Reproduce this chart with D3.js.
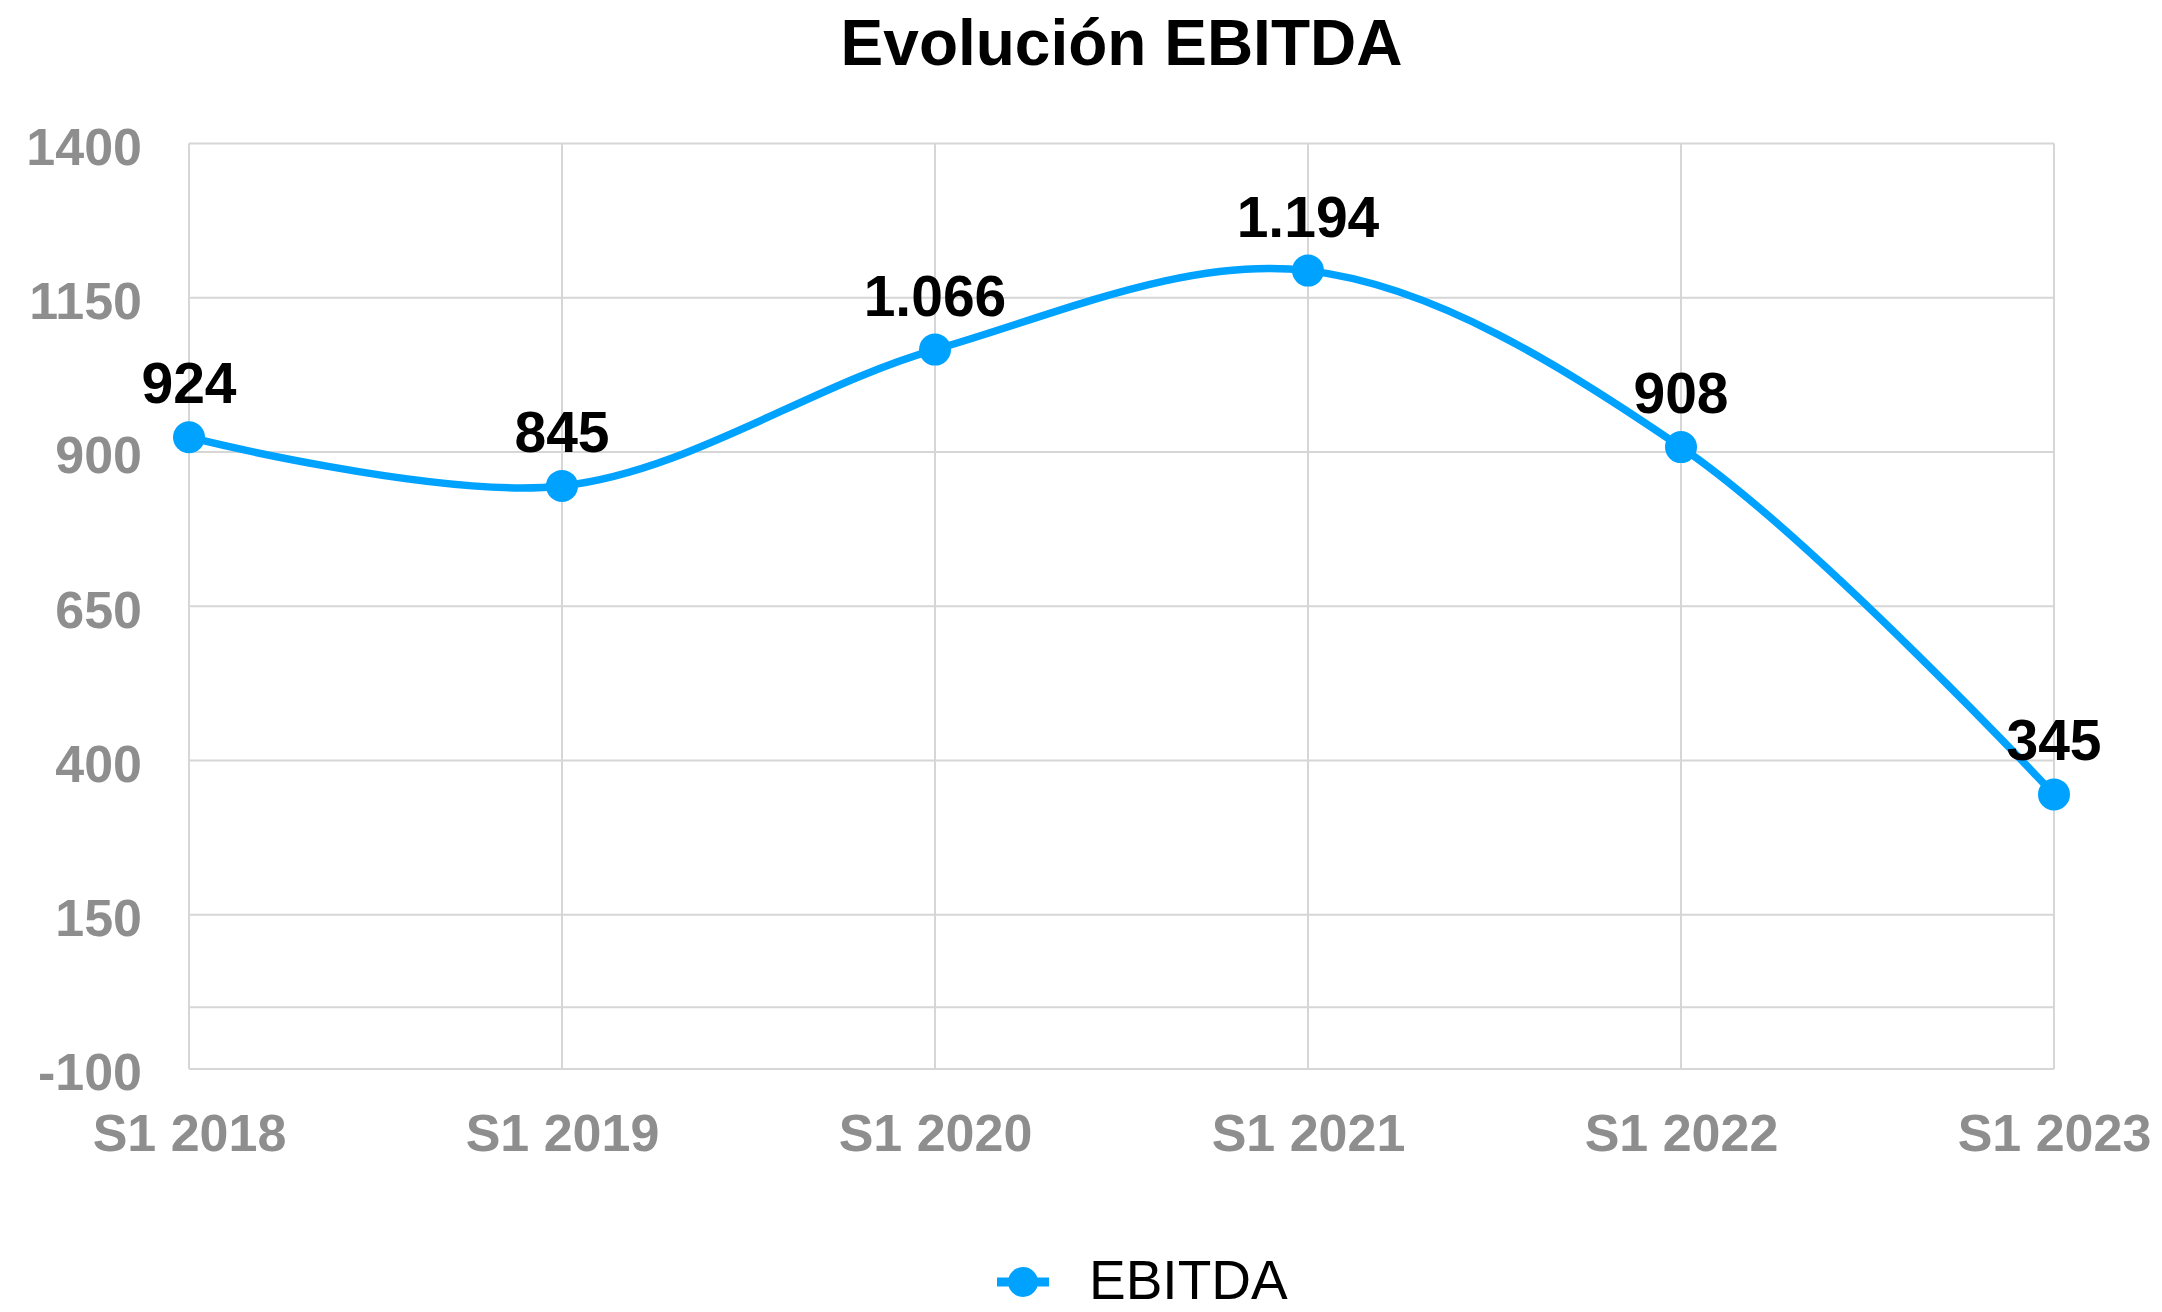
<!DOCTYPE html>
<html>
<head>
<meta charset="utf-8">
<script src="https://cdn.jsdelivr.net/npm/d3@7"></script>
<style>
  html, body { margin: 0; padding: 0; background: #ffffff; }
  svg { display: block; }
  text { font-family: "Liberation Sans", Arial, Helvetica, sans-serif; }
</style>
</head>
<body>
<svg id="chart" width="2162" height="1312"></svg>
<script>
const categories = ["S1 2018", "S1 2019", "S1 2020", "S1 2021", "S1 2022", "S1 2023"];
const ebitda = [924, 845, 1066, 1194, 908, 345];
const dataLabels = ["924", "845", "1.066", "1.194", "908", "345"];
const yTicks = [-100, 150, 400, 650, 900, 1150, 1400];
const seriesName = "EBITDA";
const chartTitle = "Evolución EBITDA";

const W = 2162, H = 1312;
const plot = { left: 189, right: 2054, top: 143.5, bottom: 1069 };
const blue = "#00a2ff";
const gridColor = "#d6d6d6";

const svg = d3.select("#chart");
svg.append("rect").attr("width", W).attr("height", H).attr("fill", "#fff");

const x = d3.scalePoint().domain(categories).range([plot.left, plot.right]).padding(0);
const y = d3.scaleLinear().domain([-100, 1400]).range([plot.bottom, plot.top]);

// horizontal gridlines (including zero line)
const hLines = yTicks.concat([0]);
svg.append("g").selectAll("line").data(hLines).join("line")
  .attr("x1", plot.left).attr("x2", plot.right)
  .attr("y1", d => y(d)).attr("y2", d => y(d))
  .attr("stroke", gridColor).attr("stroke-width", 2);

// vertical gridlines
svg.append("g").selectAll("line").data(categories).join("line")
  .attr("x1", d => x(d)).attr("x2", d => x(d))
  .attr("y1", plot.top).attr("y2", plot.bottom)
  .attr("stroke", gridColor).attr("stroke-width", 2);

// y axis labels
const yAxis = d3.axisLeft(y).tickValues(yTicks).tickSize(0).tickPadding(47).tickFormat(d => d < 0 ? "-" + Math.abs(d) : String(d));
const gy = svg.append("g").attr("transform", `translate(${plot.left},0)`).call(yAxis);
gy.select(".domain").remove();
gy.selectAll("text")
  .attr("font-family", "'Liberation Sans', Arial, sans-serif")
  .attr("font-size", 52).attr("font-weight", "bold").attr("fill", "#8e8e8e")
  .attr("dy", "0.40em");

// x axis labels
const xAxis = d3.axisBottom(x).tickSize(0).tickPadding(0);
const gx = svg.append("g").attr("transform", `translate(0,${plot.bottom})`).call(xAxis);
gx.select(".domain").remove();
gx.selectAll("text")
  .attr("font-family", "'Liberation Sans', Arial, sans-serif")
  .attr("font-size", 52).attr("font-weight", "bold").attr("fill", "#8e8e8e")
  .attr("y", 82).attr("dy", 0);

// line
const pts = categories.map((c, i) => ({ c, v: ebitda[i], label: dataLabels[i] }));
const line = d3.line().x(d => x(d.c)).y(d => y(d.v)).curve(d3.curveCatmullRom.alpha(0.5));
svg.append("path").datum(pts)
  .attr("d", line).attr("fill", "none")
  .attr("stroke", blue).attr("stroke-width", 7.5).attr("stroke-linejoin", "round").attr("stroke-linecap", "round");

// markers
svg.append("g").selectAll("circle").data(pts).join("circle")
  .attr("cx", d => x(d.c)).attr("cy", d => y(d.v)).attr("r", 16).attr("fill", blue);

// data labels
svg.append("g").selectAll("text").data(pts).join("text")
  .attr("x", d => x(d.c)).attr("y", d => y(d.v) - 34)
  .attr("text-anchor", "middle")
  .attr("font-size", 57).attr("font-weight", "bold").attr("fill", "#000")
  .text(d => d.label);

// title
svg.append("text")
  .attr("x", (plot.left + plot.right) / 2).attr("y", 65)
  .attr("text-anchor", "middle")
  .attr("font-size", 64).attr("font-weight", "bold").attr("fill", "#000")
  .text(chartTitle);

// legend
const lg = svg.append("g");
lg.append("line").attr("x1", 997).attr("x2", 1049).attr("y1", 1282).attr("y2", 1282)
  .attr("stroke", blue).attr("stroke-width", 9);
lg.append("circle").attr("cx", 1023).attr("cy", 1282).attr("r", 15).attr("fill", blue);
lg.append("text").attr("x", 1089).attr("y", 1299)
  .attr("font-size", 55).attr("fill", "#000")
  .text(seriesName);
</script>
</body>
</html>
